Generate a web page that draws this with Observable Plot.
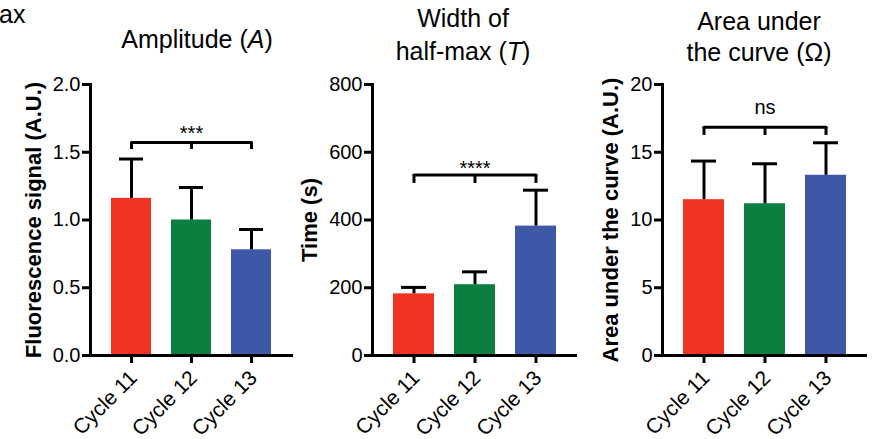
<!DOCTYPE html>
<html><head><meta charset="utf-8">
<script src="https://cdn.jsdelivr.net/npm/d3@7"></script>
<script src="https://cdn.jsdelivr.net/npm/@observablehq/plot@0.6"></script>
<style>
body{margin:0;background:#fff;font-family:"Liberation Sans",Arial,sans-serif;}
#root{position:relative;width:881px;height:439px;overflow:hidden;background:#fff;}
.panel{position:absolute;top:0;}
#titles{position:absolute;left:0;top:0;pointer-events:none;}
</style></head><body><div id="root"></div>
<script>
const categories = ["Cycle 11", "Cycle 12", "Cycle 13"];
const barColors = ["#EF3424", "#0A7F40", "#3C58A6"];

const amplitudeMean = [1.16, 1.00, 0.78];
const amplitudeErr = [0.29, 0.24, 0.15];
const amplitudeTicks = [0, 0.5, 1.0, 1.5, 2.0];

const halfWidthMean = [182, 209, 382];
const halfWidthErr = [19, 38, 106];
const halfWidthTicks = [0, 200, 400, 600, 800];

const areaMean = [11.5, 11.2, 13.3];
const areaErr = [2.85, 2.95, 2.4];
const areaTicks = [0, 5, 10, 15, 20];

const yLabels = ["Fluorescence signal (A.U.)", "Time (s)", "Area under the curve (A.U.)"];
const significance = ["***", "****", "ns"];
const bracketLevels = [[1.572, 1.52], [533, 508], [16.85, 16.24]];

const panels = [
  {left: 0, width: 300, ml: 90, mr: 7, mean: amplitudeMean, err: amplitudeErr, ticks: amplitudeTicks, domain: [0, 2], fmt: d3.format(".1f"), label: yLabels[0], labelDx: -57, sig: significance[0], br: bracketLevels[0], sigDy: -2},
  {left: 300, width: 290, ml: 72, mr: 13, mean: halfWidthMean, err: halfWidthErr, ticks: halfWidthTicks, domain: [0, 800], fmt: d3.format("d"), label: yLabels[1], labelDx: -63, sig: significance[1], br: bracketLevels[1], sigDy: 0},
  {left: 590, width: 291, ml: 72, mr: 14, mean: areaMean, err: areaErr, ticks: areaTicks, domain: [0, 20], fmt: d3.format("d"), label: yLabels[2], labelDx: -52, sig: significance[2], br: bracketLevels[2], sigDy: -13}
];

const root = document.getElementById("root");
const FONT = "Liberation Sans, Arial, Helvetica, sans-serif";

panels.forEach(p => {
  const data = categories.map((c, i) => ({cat: c, mean: p.mean[i], top: p.mean[i] + p.err[i]}));
  const bracket = categories.map(c => ({cat: c, y: p.br[0], y0: p.br[1]}));
  const chart = Plot.plot({
    width: p.width,
    height: 439,
    marginLeft: p.ml,
    marginRight: p.mr,
    marginTop: 84,
    marginBottom: 84,
    style: {fontFamily: FONT, background: "transparent", color: "#000", overflow: "visible"},
    x: {domain: categories, padding: 0.33, axis: null},
    y: {domain: p.domain, axis: null},
    color: {domain: categories, range: barColors},
    marks: [
      Plot.barY(data, {x: "cat", y: "mean", fill: "cat"}),
      Plot.ruleX(data, {x: "cat", y1: "mean", y2: "top", stroke: "#000", strokeWidth: 3}),
      Plot.tickY(data, {x: "cat", y: "top", stroke: "#000", strokeWidth: 3, insetLeft: 8, insetRight: 8}),
      Plot.line(bracket, {x: "cat", y: "y", stroke: "#000", strokeWidth: 3}),
      Plot.ruleX(bracket, {x: "cat", y1: "y0", y2: "y", stroke: "#000", strokeWidth: 3}),
      Plot.text([p.sig], {x: () => categories[1], y: () => p.br[0], text: d => d, lineAnchor: "bottom", dy: p.sigDy, fontSize: 20}),
      Plot.ruleY([0], {stroke: "#000", strokeWidth: 3}),
      Plot.frame({anchor: "left", stroke: "#000", strokeWidth: 3}),
      Plot.axisY({ticks: p.ticks, tickFormat: p.fmt, tickSize: 8, tickPadding: 2, fontSize: 20, strokeWidth: 3, label: null}),
      Plot.axisX({tickSize: 8, text: null, strokeWidth: 3, label: null}),
      Plot.axisX({tickSize: 0, tickPadding: 19, dx: 2, tickRotate: -45, fontSize: 21, label: null}),
      Plot.text([p.label], {frameAnchor: "left", textAnchor: "middle", rotate: -90, dx: p.labelDx, text: d => d, fontWeight: "bold", fontSize: 22})
    ]
  });
  const div = document.createElement("div");
  div.className = "panel";
  div.style.left = p.left + "px";
  div.appendChild(chart);
  root.appendChild(div);
});

// Titles (with italic symbols) drawn as real text above the plots
const ns = "http://www.w3.org/2000/svg";
const tsvg = document.createElementNS(ns, "svg");
tsvg.setAttribute("id", "titles");
tsvg.setAttribute("width", 881);
tsvg.setAttribute("height", 90);
tsvg.style.fontFamily = FONT;
const titleLines = [
  {x: -1, y: 23, anchor: "start", parts: [["ax", false]]},
  {x: 197, y: 48, anchor: "middle", parts: [["Amplitude (", false], ["A", true], [")", false]]},
  {x: 463, y: 27, anchor: "middle", parts: [["Width of", false]]},
  {x: 463, y: 60, anchor: "middle", parts: [["half-max (", false], ["T", true], [")", false]]},
  {x: 759, y: 30, anchor: "middle", parts: [["Area under", false]]},
  {x: 759, y: 61, anchor: "middle", parts: [["the curve (Ω)", false]]}
];
titleLines.forEach(l => {
  const t = document.createElementNS(ns, "text");
  t.setAttribute("x", l.x);
  t.setAttribute("y", l.y);
  t.setAttribute("text-anchor", l.anchor);
  t.setAttribute("font-size", 25);
  t.setAttribute("fill", "#000");
  l.parts.forEach(([s, it]) => {
    const ts = document.createElementNS(ns, "tspan");
    ts.textContent = s;
    if (it) ts.setAttribute("font-style", "italic");
    t.appendChild(ts);
  });
  tsvg.appendChild(t);
});
root.appendChild(tsvg);
</script>
</body></html>
